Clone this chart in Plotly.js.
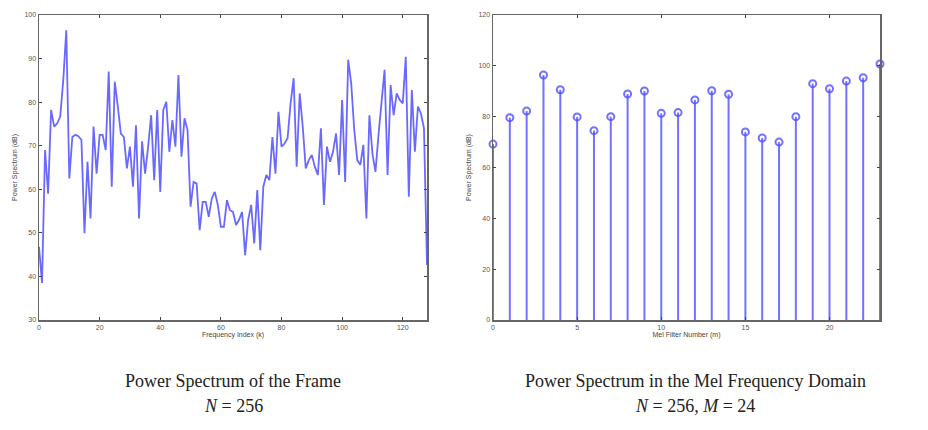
<!DOCTYPE html>
<html>
<head>
<meta charset="utf-8">
<script src="https://cdn.plot.ly/plotly-3.0.1.min.js"></script>
<style>html,body{margin:0;padding:0;background:#fff;}#chart{width:928px;height:430px;}</style>
</head>
<body>
<div id="chart"></div>
<script>
// Left panel: power spectrum of the frame, k = 0..128
const powerSpectrum = [
  46.8, 38.5, 69, 59, 78.2, 74.4, 75.1, 76.7, 85, 96.5,
  62.5, 72, 72.5, 72.2, 71.3, 49.9, 66.3, 53.3, 74.4, 63.6,
  72.5, 72.5, 69, 87, 60.6, 84.7, 79, 72.8, 72, 64.8,
  69.8, 60.6, 74.7, 53.3, 71, 63.6, 69.8, 77, 62.1, 78.2,
  59.4, 78.2, 80.1, 68.6, 75.9, 69.8, 86.2, 67.5, 76.3, 73.6,
  56, 61.7, 61.3, 50.6, 57.1, 57.1, 53.7, 57.9, 59.4, 56.4,
  51.4, 51.4, 57.5, 55.2, 54.8, 51.8, 53, 54.8, 44.9, 53,
  56.4, 47.6, 59.8, 46, 60.6, 63.3, 62.1, 72, 63.6, 77.8,
  69.8, 70.5, 71.7, 79.7, 85.5, 65.2, 82, 74.4, 64.8, 66.7,
  67.9, 65.2, 63.3, 74, 56.4, 69.8, 66.3, 68.6, 72.8, 63.3,
  80.5, 61.7, 89.7, 84.3, 73.6, 66.7, 65.6, 70.2, 53.3, 77,
  68.2, 64, 72.5, 79.7, 87.4, 63.3, 83.9, 77, 82, 80.5,
  79.7, 90.4, 58.3, 82.8, 68.6, 79, 77.4, 74, 42.6
];
const freqIndex = powerSpectrum.map((_, i) => i);

// Right panel: mel filter outputs, m = 0..23
const melValues = [69.2, 79.6, 82.2, 96.4, 90.6, 79.9, 74.5, 80, 88.9, 90.1, 81.3, 81.6,
                   86.6, 90.2, 88.8, 74, 71.6, 70, 80, 93, 91, 94, 95.3, 100.7];
const melIndex = melValues.map((_, i) => i);

const leftXTicks = [0, 20, 40, 60, 80, 100, 120];
const leftYTicks = [30, 40, 50, 60, 70, 80, 90, 100];
const rightXTicks = [0, 5, 10, 15, 20];
const rightYTicks = [0, 20, 40, 60, 80, 100, 120];

const BLUE = '#4f4fff';

// stems built from the data arrays
const stemX = [], stemY = [];
melIndex.forEach((m, i) => { stemX.push(m, m, null); stemY.push(0, melValues[i], null); });

const traces = [
  {x: freqIndex, y: powerSpectrum, type: 'scatter', mode: 'lines',
   line: {color: BLUE, width: 1.8}, opacity: 0.85, xaxis: 'x', yaxis: 'y', hoverinfo: 'skip'},
  {x: stemX, y: stemY, type: 'scatter', mode: 'lines',
   line: {color: BLUE, width: 2}, opacity: 0.8, xaxis: 'x2', yaxis: 'y2', cliponaxis: false},
  {x: melIndex, y: melValues, type: 'scatter', mode: 'markers',
   marker: {symbol: 'circle-open', size: 7, color: BLUE, line: {width: 2, color: BLUE}},
   opacity: 0.8, xaxis: 'x2', yaxis: 'y2', cliponaxis: false}
];

const tickFont = {family: 'Arial, Liberation Sans, sans-serif', size: 7, color: '#555'};
const titleFont = {family: 'Arial, Liberation Sans, sans-serif', size: 7, color: '#444'};
const axisCommon = {
  showgrid: false, zeroline: false, showline: true, linecolor: '#666', linewidth: 1.5,
  mirror: 'ticks', ticks: 'inside', ticklen: 3, tickwidth: 1, tickcolor: '#444',
  tickfont: tickFont
};

const yDom = [1 - 320/430, 1 - 15/430];
const captionFont = {family: 'Liberation Serif, Times New Roman, serif', size: 18, color: '#222'};
const caption = (text, xpx, ypx) => ({text: text, x: xpx/928, y: 1 - ypx/430, xref: 'paper', yref: 'paper',
  xanchor: 'center', yanchor: 'middle', showarrow: false, font: captionFont});

const layout = {
  width: 928, height: 430,
  margin: {l: 0, r: 0, t: 0, b: 0},
  paper_bgcolor: '#fff', plot_bgcolor: '#fff',
  showlegend: false,
  xaxis: Object.assign({}, axisCommon, {domain: [39/928, 427/928], range: [0, 128],
    tickvals: leftXTicks, ticktext: leftXTicks.map(String), anchor: 'y',
    title: {text: 'Frequency Index (k)', font: titleFont, standoff: 0}}),
  yaxis: Object.assign({}, axisCommon, {domain: yDom, range: [30, 100],
    tickvals: leftYTicks, ticktext: leftYTicks.map(String), anchor: 'x',
    title: {text: 'Power Spectrum (dB)', font: titleFont, standoff: 6}}),
  xaxis2: Object.assign({}, axisCommon, {domain: [493/928, 880/928], range: [0, 23],
    tickvals: rightXTicks, ticktext: rightXTicks.map(String), anchor: 'y2',
    title: {text: 'Mel Filter Number (m)', font: titleFont, standoff: 0}}),
  yaxis2: Object.assign({}, axisCommon, {domain: yDom, range: [0, 120],
    tickvals: rightYTicks, ticktext: rightYTicks.map(String), anchor: 'x2',
    title: {text: 'Power Spectrum (dB)', font: titleFont, standoff: 6}}),
  annotations: [
    caption('Power Spectrum of the Frame', 233, 381),
    caption('<i>N</i> = 256', 233, 406),
    caption('Power Spectrum in the Mel Frequency Domain', 695, 381),
    caption('<i>N</i> = 256, <i>M</i> = 24', 695, 406)
  ]
};

Plotly.newPlot('chart', traces, layout, {staticPlot: true, displayModeBar: false});
</script>
</body>
</html>
